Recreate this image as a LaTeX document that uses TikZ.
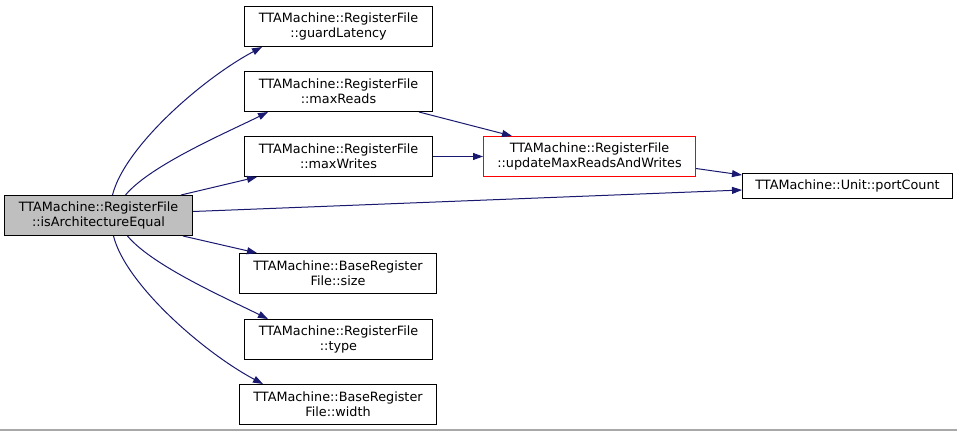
\documentclass[tikz,border=0pt]{standalone}
\usepackage{fontspec}
\setmainfont{DejaVu Sans}
\usetikzlibrary{arrows.meta}

\definecolor{edgeblue}{HTML}{191970}
\definecolor{rootgray}{HTML}{BFBFBF}
\definecolor{hotred}{HTML}{FF0000}
\definecolor{rulegray}{HTML}{A8A8A8}

\tikzset{
  fn/.style={draw=black, line width=1pt, rectangle, inner sep=0pt, align=center,
    minimum height=40pt, minimum width=188pt, font=\fontsize{12.8}{15}\selectfont},
  rootfn/.style={fn, fill=rootgray},
  hotfn/.style={fn, draw=hotred},
  call/.style={draw=edgeblue, line width=1pt, -{Triangle[length=10pt,width=7pt]}}
}

\begin{document}
\begin{tikzpicture}[x=1pt, y=-1pt]
\useasboundingbox (0,0) rectangle (957,431);

% Caller
\node [rootfn] (isArchEqual) at (98.5,215.5) {TTAMachine::RegisterFile\\::isArchitectureEqual};

% Callees
\node [fn] (guardLatency) at (338.5,26.5) {TTAMachine::RegisterFile\\::guardLatency};
\node [fn] (maxReads) at (338.5,91.5) {TTAMachine::RegisterFile\\::maxReads};
\node [fn] (maxWrites) at (338.5,156.5) {TTAMachine::RegisterFile\\::maxWrites};
\node [fn, minimum width=197pt] (regSize) at (338,273.5) {TTAMachine::BaseRegister\\File::size};
\node [fn] (regType) at (338.5,339.5) {TTAMachine::RegisterFile\\::type};
\node [fn, minimum width=197pt] (regWidth) at (338,404.5) {TTAMachine::BaseRegister\\File::width};
\node [hotfn, minimum width=212pt] (updateMax) at (589.5,156.5) {TTAMachine::RegisterFile\\::updateMaxReadsAndWrites};
\node [fn, minimum width=210pt, minimum height=25pt] (portCount) at (847.5,186) {TTAMachine::Unit::portCount};

% Calls
\draw [call] ([xshift=14pt]isArchEqual.north) .. controls +(12,-48) and +(-60,32) .. ([xshift=18pt]guardLatency.south west);
\draw [call] ([xshift=27pt]isArchEqual.north) .. controls +(25,-30) and +(-40,20) .. ([xshift=24pt]maxReads.south west);
\draw [call] ([xshift=-12pt]isArchEqual.north east) -- ([xshift=13pt]maxWrites.south west);
\draw [call] ([yshift=4pt]isArchEqual.east) -- ([yshift=-4pt]portCount.west);
\draw [call] ([xshift=-10pt]isArchEqual.south east) -- ([xshift=18pt]regSize.north west);
\draw [call] ([xshift=29pt]isArchEqual.south) .. controls +(25,30) and +(-40,-20) .. ([xshift=24pt]regType.north west);
\draw [call] ([xshift=15pt]isArchEqual.south) .. controls +(12,48) and +(-60,-32) .. ([xshift=24pt]regWidth.north west);
\draw [call] ([xshift=-14pt]maxReads.south east) -- ([xshift=29pt]updateMax.north west);
\draw [call] (maxWrites.east) -- (updateMax.west);
\draw [call] ([yshift=-12pt]updateMax.east) -- ([yshift=-2pt]portCount.north west);

% Frame
\draw [rulegray, line width=1.5pt] (0,430) -- (957,430);

\end{tikzpicture}
\end{document}
